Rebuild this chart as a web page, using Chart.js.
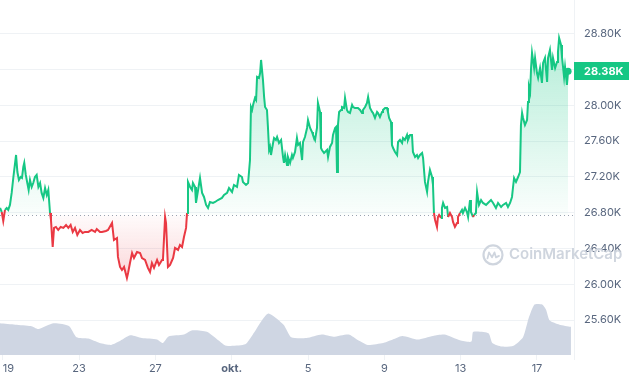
<!DOCTYPE html>
<html><head><meta charset="utf-8">
<script src="https://cdn.jsdelivr.net/npm/chart.js@4.4.0/dist/chart.umd.min.js"></script>
<style>html,body{margin:0;padding:0;background:#fff;}canvas{display:block;}</style>
</head><body>
<canvas id="c" width="630" height="380"></canvas>
<script>
// Day offsets from 19 Sep 00:00 and BTC price (USD)
const DAYS = [
-0.14,-0.05,0.03,0.12,0.21,0.29,0.38,0.47,0.56,0.65,
0.70,0.77,0.85,0.94,1.01,1.08,1.13,1.21,1.29,1.36,
1.43,1.52,1.60,1.69,1.78,1.87,1.96,2.04,2.13,2.22,
2.31,2.39,2.48,2.53,2.62,2.69,2.79,2.91,3.04,3.18,
3.32,3.44,3.56,3.67,3.79,3.91,4.05,4.19,4.31,4.49,
4.66,4.84,4.93,5.10,5.20,5.41,5.52,5.73,5.83,5.99,
6.04,6.15,6.25,6.36,6.51,6.57,6.67,6.78,6.88,7.04,
7.20,7.30,7.46,7.61,7.72,7.82,7.93,8.09,8.19,8.35,
8.40,8.51,8.56,8.66,8.77,8.93,9.03,9.19,9.29,9.40,
9.50,9.61,9.66,9.71,9.82,9.92,9.97,10.08,10.13,10.24,
10.34,10.45,10.55,10.66,10.76,10.86,11.02,11.13,11.28,11.49,
11.60,11.76,11.86,12.02,12.12,12.28,12.38,12.54,12.59,12.75,
12.86,12.96,13.01,13.07,13.12,13.22,13.28,13.33,13.43,13.49,
13.54,13.64,13.70,13.75,13.85,13.90,13.96,14.01,14.06,14.17,
14.22,14.32,14.38,14.48,14.59,14.69,14.74,14.80,14.90,14.95,
15.06,15.16,15.21,15.32,15.42,15.48,15.58,15.69,15.74,15.84,
15.95,16.00,16.11,16.21,16.26,16.37,16.47,16.52,16.63,16.68,
16.73,16.84,17.00,17.05,17.15,17.26,17.31,17.42,17.47,17.52,
17.57,17.63,17.73,17.78,17.89,17.94,18.04,18.10,18.20,18.31,
18.36,18.46,18.62,18.73,18.83,18.88,18.99,19.09,19.15,19.25,
19.36,19.41,19.51,19.62,19.67,19.77,19.88,19.93,20.04,20.14,
20.19,20.25,20.35,20.40,20.46,20.56,20.67,20.72,20.82,20.93,
20.98,21.08,21.19,21.24,21.35,21.45,21.50,21.61,21.71,21.77,
21.87,21.98,22.03,22.13,22.24,22.29,22.39,22.50,22.55,22.60,
22.66,22.76,22.81,22.87,22.97,23.02,23.08,23.18,23.29,23.34,
23.44,23.55,23.60,23.70,23.81,23.86,23.97,24.07,24.12,24.23,
24.33,24.39,24.49,24.54,24.65,24.70,24.80,24.86,24.96,25.07,
25.17,25.33,25.43,25.59,25.70,25.85,25.96,26.12,26.22,26.38,
26.48,26.59,26.69,26.74,26.80,26.90,27.01,27.11,27.16,27.22,
27.27,27.37,27.48,27.53,27.58,27.64,27.69,27.74,27.85,27.90,
28.00,28.06,28.16,28.26,28.32,28.42,28.53,28.58,28.68,28.79,
28.84,28.95,29.05,29.10,29.16,29.26,29.31,29.42,29.47,29.57,
29.63];
const PRICES = [
26853,26808,26708,26831,26853,26831,26887,27021,27199,27356,
27445,27255,27166,27199,27188,27311,27356,27222,27132,27054,
27166,27088,27132,27199,27222,27088,27132,27021,26965,27076,
26998,27054,26797,26719,26417,26630,26641,26607,26641,26630,
26663,26630,26663,26585,26630,26551,26607,26574,26585,26585,
26607,26585,26618,26585,26585,26596,26607,26685,26495,26518,
26306,26194,26160,26194,26071,26127,26238,26350,26294,26361,
26350,26294,26272,26183,26138,26238,26183,26272,26216,26272,
26283,26752,26685,26194,26216,26294,26406,26384,26440,26417,
26529,26630,26797,27144,27088,27054,27132,27088,26909,27054,
27188,27021,26976,26887,26853,26920,26909,26920,26942,26965,
26998,27021,27076,27032,27110,27088,27222,27199,27144,27110,
27132,27389,27981,27948,28004,28082,28060,28317,28306,28361,
28507,28283,28093,27981,27948,27758,27501,27535,27445,27579,
27635,27613,27646,27579,27613,27423,27356,27445,27333,27423,
27356,27445,27412,27479,27635,27557,27579,27389,27590,27646,
27747,27836,27747,27702,27669,27613,27747,28026,27926,27523,
27501,27467,27501,27423,27535,27579,27669,27747,27758,27255,
27780,27926,27948,27981,27970,28082,27948,27926,27914,28004,
27981,27970,27970,27948,27914,27948,27981,28026,28093,27970,
27926,27914,27859,27926,27914,27870,27926,27948,27970,27970,
27926,27859,27814,27557,27523,27479,27445,27590,27613,27579,
27635,27613,27669,27613,27669,27669,27479,27423,27445,27412,
27445,27467,27412,27144,27032,27144,27278,27199,27110,26797,
26719,26641,26752,26775,26741,26853,26909,26853,26864,26752,
26797,26752,26697,26641,26685,26752,26797,26831,26797,26853,
26808,26752,26942,26808,26752,26775,26797,27032,26887,26942,
26909,26887,26909,26942,26909,26853,26909,26864,26887,26909,
26864,26909,26976,27076,27188,27144,27199,27255,27780,27914,
27859,27780,27836,28037,28205,28149,28417,28585,28417,28529,
28361,28306,28417,28250,28473,28529,28261,28529,28618,28395,
28529,28417,28484,28596,28752,28674,28540,28317,28428,28227,
28380];
// Volume (billions USD)
const VOL_DAYS = [-0.14,0.66,1.47,1.87,2.67,3.47,3.87,4.48,5.08,5.68,6.09,6.69,7.29,8.09,8.39,8.69,9.50,9.90,10.70,11.30,11.71,12.71,13.11,13.91,14.72,15.12,15.92,16.72,17.33,18.13,18.63,19.13,19.94,20.34,20.94,21.75,22.55,23.15,23.96,24.56,24.66,25.46,25.66,26.16,26.77,27.27,27.57,27.87,28.27,28.47,28.67,29.18,29.78];
const VOLUMES = [11.6,11.1,10.6,9.5,11.6,10.6,6.5,6.0,4.4,3.7,4.9,7.2,6.2,5.7,4.4,6.8,7.5,9.0,8.5,5.4,3.4,3.9,7.5,15.2,11.1,6.5,6.2,7.5,6.7,7.5,5.4,3.7,4.4,5.4,7.0,5.7,7.0,7.5,5.4,4.9,8.5,8.0,4.4,3.1,3.4,6.5,13.6,18.5,18.5,16.7,12.6,11.1,10.3];
const X_TICK_DAYS = [0,4,8,12,16,20,24,28];
const X_TICK_LABELS = ['19','23','27','okt.','5','9','13','17'];
const Y_TICKS = [25600,26000,26400,26800,27200,27600,28000,28400,28800];
const BASE_PRICE = 26775;
const WATERMARK = 'CoinMarketCap';

const GREEN = '#16c784', RED = '#ea3943';
const GRID = '#eff2f5', LABEL = '#58667e';
const fmtK = v => (v / 1000).toFixed(2) + 'K';

const fillOpt = (ctx) => {
  const chart = ctx.chart, y = chart.scales && chart.scales.y;
  if (!chart.chartArea || !y) return { target: { value: BASE_PRICE }, above: 'rgba(22,199,132,0.15)', below: 'rgba(234,57,67,0.1)' };
  const yb = y.getPixelForValue(BASE_PRICE);
  const yt = y.getPixelForValue(Math.max(...PRICES));
  const ym = y.getPixelForValue(Math.min(...PRICES));
  const g = chart.ctx.createLinearGradient(0, yt, 0, yb);
  g.addColorStop(0, 'rgba(22,199,132,0.32)');
  g.addColorStop(1, 'rgba(22,199,132,0.02)');
  const r = chart.ctx.createLinearGradient(0, yb, 0, ym);
  r.addColorStop(0, 'rgba(234,57,67,0.02)');
  r.addColorStop(1, 'rgba(234,57,67,0.2)');
  return { target: { value: BASE_PRICE }, above: g, below: r };
};

const decor = {
  id: 'decor',
  beforeDatasetsDraw(chart) {
    const { ctx, chartArea: a } = chart;
    const cx = a.right - 81, cy = a.top + (a.bottom - a.top) * 0.718;
    ctx.save();
    ctx.strokeStyle = '#cfd5de'; ctx.fillStyle = '#cfd5de';
    ctx.lineWidth = 2.2; ctx.lineJoin = 'round'; ctx.lineCap = 'round';
    ctx.beginPath(); ctx.arc(cx, cy, 9.5, 0, Math.PI * 2); ctx.stroke();
    ctx.lineWidth = 1.8;
    ctx.beginPath();
    ctx.moveTo(cx - 5.5, cy + 3.5); ctx.lineTo(cx - 4, cy - 2.5); ctx.lineTo(cx - 1, cy + 2.5);
    ctx.lineTo(cx + 1.5, cy - 2.5); ctx.lineTo(cx + 3, cy + 2.5); ctx.lineTo(cx + 6, cy + 1);
    ctx.stroke();
    ctx.font = '600 15px Inter, "Open Sans", sans-serif';
    ctx.textBaseline = 'middle'; ctx.textAlign = 'left';
    ctx.fillText(WATERMARK, cx + 16, cy);
    ctx.restore();
  },
  beforeDatasetDraw(chart, args) {
    if (args.index !== 1) return;
    const { ctx, chartArea: a, scales } = chart;
    const yb = Math.round(scales.y.getPixelForValue(BASE_PRICE)) + 0.5;
    ctx.save();
    ctx.strokeStyle = '#9aa3b1'; ctx.lineWidth = 1; ctx.setLineDash([1, 3]);
    ctx.beginPath(); ctx.moveTo(a.left, yb); ctx.lineTo(a.right, yb); ctx.stroke();
    ctx.restore();
  },
  afterDraw(chart) {
    const { ctx, chartArea: a, scales } = chart;
    const last = PRICES[PRICES.length - 1];
    const yp = scales.y.getPixelForValue(last);
    ctx.save();
    ctx.fillStyle = GREEN;
    ctx.fillRect(a.right, Math.round(yp - 9), chart.width - a.right - 1, 18);
    ctx.fillStyle = '#ffffff';
    ctx.font = '700 11px Inter, "Open Sans", sans-serif';
    ctx.textBaseline = 'middle'; ctx.textAlign = 'left';
    ctx.fillText(fmtK(last), a.right + 10, yp + 0.5);
    ctx.restore();
  }
};

new Chart(document.getElementById('c'), {
  type: 'line',
  data: {
    datasets: [
      {
        label: 'Volume',
        data: VOL_DAYS.map((d, i) => ({ x: d, y: VOLUMES[i] })),
        yAxisID: 'y2',
        borderWidth: 0,
        backgroundColor: '#cfd6e3',
        fill: 'start',
        pointRadius: 0,
        tension: 0.2,
        order: 2
      },
      {
        label: 'Price',
        data: DAYS.map((d, i) => ({ x: d, y: PRICES[i] })),
        yAxisID: 'y',
        borderWidth: 2,
        borderColor: GREEN,
        segment: {
          borderColor: c => ((c.p0.parsed.y + c.p1.parsed.y) / 2 < BASE_PRICE ? RED : GREEN)
        },
        fill: fillOpt,
        pointRadius: c => (c.dataIndex === PRICES.length - 1 ? 3.5 : 0),
        pointBackgroundColor: GREEN,
        pointBorderWidth: 0,
        pointHoverRadius: 0,
        tension: 0,
        order: 1
      }
    ]
  },
  options: {
    responsive: false,
    animation: false,
    devicePixelRatio: 1,
    layout: { padding: 0, autoPadding: false },
    plugins: { legend: { display: false }, tooltip: { enabled: false } },
    scales: {
      x: {
        type: 'linear',
        min: -0.1415,
        max: 29.94,
        afterBuildTicks: axis => {
          axis.ticks = X_TICK_DAYS.map(v => ({ value: v })).concat([{ value: axis.max }]);
        },
        afterFit: axis => { axis.height = 25; axis.paddingLeft = 0; axis.paddingRight = 0; },
        ticks: {
          autoSkip: false, maxRotation: 0, padding: 2, align: 'inner',
          color: LABEL,
          font: c => ({ family: 'Inter', size: 11, weight: (c.tick && isNaN(Number(c.tick.label))) ? '700' : '400' }),
          callback: (v, i) => (X_TICK_LABELS[i] !== undefined ? X_TICK_LABELS[i] : '')
        },
        grid: { drawOnChartArea: false, drawTicks: true, tickLength: 5, color: GRID },
        border: { display: false }
      },
      y: {
        type: 'linear',
        position: 'right',
        min: 25210,
        max: 29177,
        afterBuildTicks: axis => { axis.ticks = Y_TICKS.map(v => ({ value: v })); },
        afterFit: axis => { axis.width = 56; axis.paddingTop = 0; axis.paddingBottom = 0; },
        ticks: {
          padding: 10, color: LABEL,
          font: { family: 'Inter', size: 11 },
          callback: v => fmtK(v)
        },
        grid: { color: GRID, drawTicks: false, tickLength: 0 },
        border: { display: true, color: GRID }
      },
      y2: {
        type: 'linear', display: false, min: 0, max: 130
      }
    }
  },
  plugins: [decor]
});
</script>
</body></html>
